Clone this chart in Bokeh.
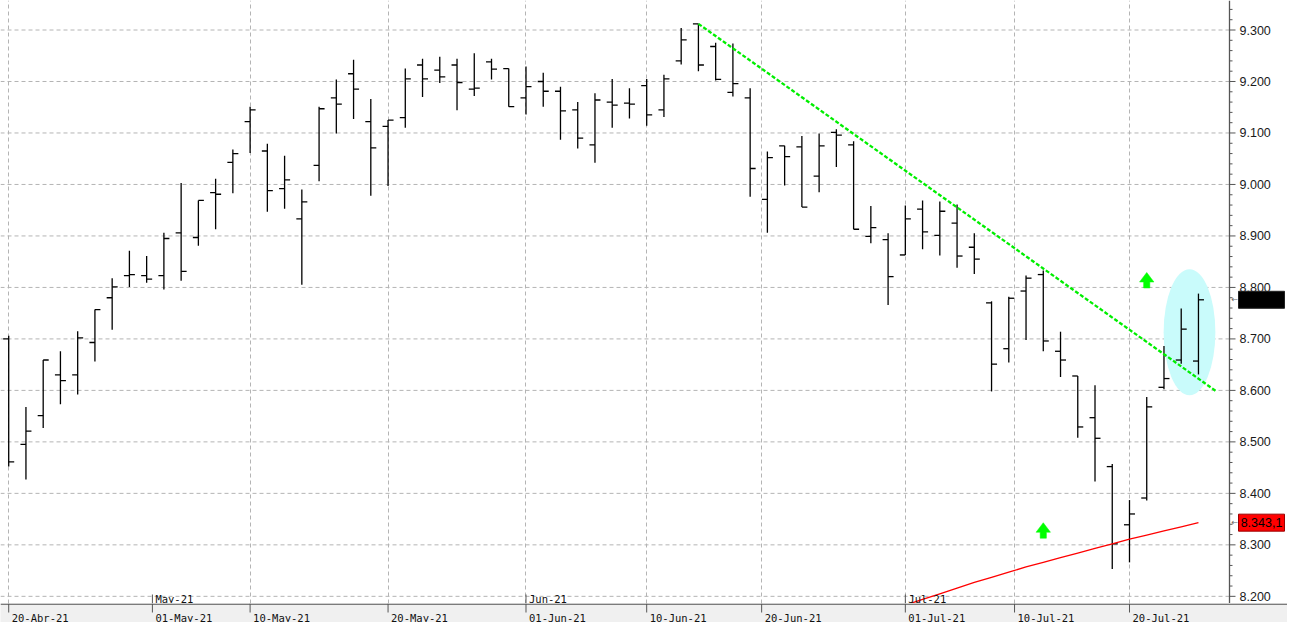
import pandas as pd
from bokeh.plotting import figure
from bokeh.layouts import column
from bokeh.models import Range1d, FixedTicker, Grid, Span
from bokeh.core.properties import value
from bokeh.embed import file_html
from bokeh.resources import INLINE

# ---------------- data ----------------
first_session = "2021-04-20"
n_sessions = 70
opens = [8700, 8495, 8551, 8630, 8630, 8693, 8780, 8823, 8823, 8823,
         8906, 8897, 8984, 9043, 9122, 9065, 8992, 8933, 9037, 9168,
         9215, 9122, 9113, 9130, 9232, 9222, 9232, 9185, 9238, 9225,
         9168, 9200, 9181, 9145, 9077, 9160, 9158, 9192, 9145, 9240,
         9312, 9268, 9179, 9168, 8971, 9075, 9073, 9016, 9101, 9077,
         8899, 8893, 8863, 8952, 8901, 8925, 8878, 8770, 8681, 8793,
         8825, 8676, 8628, 8547, 8452, 8339, 8391, 8606, 8659, 8657]
highs = [8706, 8568, 8659, 8676, 8715, 8757, 8818, 8871, 8861, 8906,
         9003, 8969, 9011, 9068, 9151, 9079, 9056, 8990, 9151, 9204,
         9242, 9166, 9125, 9225, 9244, 9248, 9244, 9255, 9244, 9225,
         9229, 9217, 9190, 9160, 9177, 9205, 9187, 9205, 9213, 9304,
         9312, 9275, 9274, 9187, 9064, 9075, 9094, 9099, 9107, 9084,
         8958, 8905, 8959, 8969, 8967, 8961, 8905, 8773, 8782, 8823,
         8833, 8714, 8628, 8610, 8457, 8387, 8587, 8686, 8759, 8788]
lows = [8452, 8427, 8527, 8573, 8592, 8656, 8718, 8801, 8809, 8796,
        8813, 8881, 8913, 8983, 9061, 8947, 8953, 8805, 9006, 9099,
        9127, 8978, 8997, 9110, 9170, 9197, 9144, 9172, 9204, 9151,
        9136, 9151, 9087, 9070, 9042, 9110, 9128, 9114, 9131, 9233,
        9220, 9202, 9171, 8976, 8906, 8998, 8956, 8985, 9034, 8913,
        8886, 8766, 8863, 8874, 8862, 8838, 8826, 8598, 8654, 8698,
        8676, 8626, 8508, 8423, 8253, 8266, 8386, 8602, 8652, 8631]
closes = [8461, 8521, 8659, 8619, 8702, 8757, 8801, 8825, 8816, 8895,
          8831, 8969, 8981, 9060, 9145, 8988, 9009, 8966, 9147, 9156,
          9185, 9071, 9125, 9205, 9205, 9209, 9198, 9187, 9224, 9151,
          9190, 9181, 9143, 9090, 9164, 9154, 9156, 9135, 9205, 9281,
          9232, 9204, 9196, 9031, 9052, 9054, 8956, 9075, 9096, 8913,
          8916, 8821, 8933, 8908, 8948, 8861, 8855, 8651, 8779, 8818,
          8696, 8659, 8529, 8507, 8302, 8360, 8568, 8623, 8719, 8776]
# long moving average (last 19 sessions visible)
ma_values = [8172, 8183, 8194, 8205, 8216, 8227, 8237, 8247, 8257, 8266,
             8275, 8284, 8293, 8302, 8311, 8319, 8327, 8335, 8343.1]
# trend line (session index, price)
trend_x = [40, 70]
trend_y = [9312, 8599]
# highlight ellipse
highlight_x, highlight_y, highlight_w, highlight_h = 68.48, 8713, 3.0, 245
# green arrows (session index, tip price)
arrow_x = [60, 66]
arrow_y = [8343, 8829]

y_ticks = [8200, 8300, 8400, 8500, 8600, 8700, 8800, 8900, 9000, 9100, 9200, 9300]
y_tick_labels = ["8.200", "8.300", "8.400", "8.500", "8.600", "8.700",
                 "8.800", "8.900", "9.000", "9.100", "9.200", "9.300"]
date_ticks = ["2021-04-20", "2021-05-01", "2021-05-10", "2021-05-20", "2021-06-01",
              "2021-06-10", "2021-06-20", "2021-07-01", "2021-07-10", "2021-07-20"]
date_labels = ["20-Abr-21", "01-May-21", "10-May-21", "20-May-21", "01-Jun-21",
               "10-Jun-21", "20-Jun-21", "01-Jul-21", "10-Jul-21", "20-Jul-21"]
grid_dates = ["2021-04-20", "2021-05-10", "2021-05-20", "2021-06-01", "2021-06-10",
              "2021-06-20", "2021-07-01", "2021-07-10", "2021-07-20"]
month_dates = ["2021-05-01", "2021-06-01", "2021-07-01"]
month_labels = ["May-21", "Jun-21", "Jul-21"]

# ---------------- helpers ----------------
sessions = pd.bdate_range(first_session, periods=n_sessions)


def pos(d):
    d = pd.Timestamp(d)
    i = int(sessions.searchsorted(d))
    if i < len(sessions) and sessions[i] == d:
        return float(i)
    prev = sessions[i - 1]
    return (i - 1) + (d - prev).days / 3.0


def es(v, dec=0):
    s = f"{v:,.{dec}f}"
    return s.replace(",", "X").replace(".", ",").replace("X", ".")


W, H_MAIN, H_STRIP, RIGHT = 1287, 603, 19, 58
PLOT_W = W - RIGHT
X0, X1 = -0.476, 70.8              # price area (left of the axis line)
xpp = (X1 - X0) / PLOT_W           # data per px (x)
XE = X0 + xpp * W                  # full canvas width
Y0, Y1 = 8186.1, 9357.3
ypp = (Y1 - Y0) / H_MAIN           # data per px (y)

GRID_COLOR = "#b4b4b4"
AX_COLOR = "#555555"

p = figure(width=W, height=H_MAIN, output_backend="svg", toolbar_location=None,
           x_range=Range1d(X0, XE), y_range=Range1d(Y0, Y1),
           x_axis_location=None, y_axis_location=None,
           min_border_left=0, min_border_top=0, min_border_bottom=0,
           min_border_right=0, outline_line_color=None,
           background_fill_color="white", border_fill_color="white")
p.grid.visible = False

# grid lines
p.add_layout(Grid(dimension=0, ticker=FixedTicker(ticks=[pos(d) for d in grid_dates]),
                  grid_line_color=GRID_COLOR, grid_line_dash="4 3"))
p.segment(x0=[X0] * len(y_ticks), y0=y_ticks, x1=[X1] * len(y_ticks), y1=y_ticks,
          line_color=GRID_COLOR, line_dash="4 3", line_width=1)

# right price axis
p.add_layout(Span(location=X1, dimension="height", line_color=AX_COLOR, line_width=1.3))
p.segment(x0=[X1] * len(y_ticks), y0=y_ticks, x1=[X1 + 6 * xpp] * len(y_ticks), y1=y_ticks,
          line_color=AX_COLOR, line_width=1)
minor = [v for v in range(8120, 9400, 20) if v % 100 != 0 and Y0 < v < Y1]
p.segment(x0=[X1] * len(minor), y0=minor, x1=[X1 + 3 * xpp] * len(minor), y1=minor,
          line_color=AX_COLOR, line_width=1)
p.text(x=[X1] * len(y_ticks), y=y_ticks, text=y_tick_labels, x_offset=10,
       text_font=value("Liberation Sans"), text_font_size="12.5px",
       text_color="#1a1a1a", text_baseline="middle", text_align="left")

# highlight ellipse
p.ellipse(x=[highlight_x], y=[highlight_y], width=[highlight_w], height=[highlight_h],
          fill_color="#c9fbfb", line_color=None)

# OHLC bars
idx = list(range(n_sessions))
tick = 5.5 * xpp
p.segment(x0=idx, y0=lows, x1=idx, y1=highs, line_color="black", line_width=1.3)
p.segment(x0=[i - tick for i in idx], y0=opens, x1=idx, y1=opens, line_color="black", line_width=1.3)
p.segment(x0=idx, y0=closes, x1=[i + tick for i in idx], y1=closes, line_color="black", line_width=1.3)

# moving average
ma_x = list(range(n_sessions - len(ma_values), n_sessions))
p.line(ma_x, ma_values, line_color="#ff0000", line_width=1.3)

# trend line
p.line(trend_x, trend_y, line_color="#00ee00", line_width=2.3, line_dash="4 2")

# green arrows
hw, hh, sw, th = 7.2 * xpp, 9.5 * ypp, 3.1 * xpp, 15.5 * ypp
axs, ays = [], []
for x, y in zip(arrow_x, arrow_y):
    axs.append([x, x + hw, x + sw, x + sw, x - sw, x - sw, x - hw])
    ays.append([y, y - hh, y - hh, y - th, y - th, y - hh, y - hh])
p.patches(axs, ays, fill_color="#00ff00", line_color="#00ff00", line_width=0.5)

# month markers inside the plot
mpos = [pos(d) for d in month_dates]
p.segment(x0=mpos, y0=[Y0] * len(mpos), x1=mpos, y1=[Y0 + 9 * ypp] * len(mpos),
          line_color=AX_COLOR, line_width=1)
p.text(x=mpos, y=[Y0 + 5 * ypp] * len(mpos), text=month_labels, x_offset=3,
       text_font=value("DejaVu Sans Mono"), text_font_size="10.5px",
       text_color="#111111", text_baseline="alphabetic", text_align="left")

# price boxes on the axis
box_vals = [closes[-1], ma_values[-1]]
box_fill = ["black", "#ff0000"]
box_line = ["#222222", "#990000"]
box_cx = X1 + (9 + 23) * xpp
p.rect(x=[box_cx] * 2, y=box_vals, width=46 * xpp, height=17 * ypp,
       fill_color=box_fill, line_color=box_line, line_width=1)
p.text(x=[box_cx] * 2, y=box_vals, text=[es(v, 1) for v in box_vals],
       text_font=value("Liberation Sans"), text_font_size="12.5px",
       text_color="black", text_baseline="middle", text_align="center")
p.text(x=[X1] * 2, y=box_vals, text=["←", "←"], x_offset=2,
       text_font=value("DejaVu Sans"), text_font_size="8px", text_color="#666666",
       text_baseline="middle", text_align="left")

# ---------------- bottom date strip ----------------
s = figure(width=W, height=H_STRIP, output_backend="svg", toolbar_location=None,
           x_range=Range1d(X0, XE), y_range=Range1d(0, H_STRIP),
           x_axis_location=None, y_axis_location=None,
           min_border_left=0, min_border_top=0, min_border_bottom=0, min_border_right=0,
           outline_line_color=None, background_fill_color="#f0f0f0",
           border_fill_color="#f0f0f0")
s.grid.visible = False
s.add_layout(Span(location=H_STRIP - 0.6, dimension="width", line_color=AX_COLOR, line_width=1.3))
dpos = [pos(d) for d in date_ticks]
s.segment(x0=dpos, y0=[H_STRIP] * len(dpos), x1=dpos, y1=[H_STRIP - 9] * len(dpos),
          line_color=AX_COLOR, line_width=1)
s.text(x=dpos, y=[5] * len(dpos), text=date_labels, x_offset=3,
       text_font=value("DejaVu Sans Mono"), text_font_size="10.5px",
       text_color="#111111", text_baseline="alphabetic", text_align="left")

layout = column(p, s, spacing=0)
open("out.html", "w").write(file_html(layout, INLINE))
